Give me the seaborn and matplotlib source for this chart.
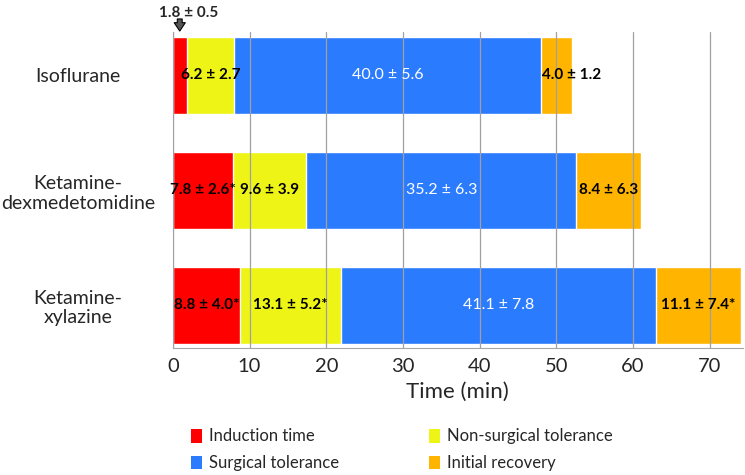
import numpy as np
import pandas as pd
import seaborn as sns
import matplotlib.pyplot as plt
from matplotlib.patches import Patch

groups = ["Isoflurane", "Ketamine-\ndexmedetomidine", "Ketamine-\nxylazine"]
phases = ["Induction time", "Non-surgical tolerance", "Surgical tolerance", "Initial recovery"]
induction = [1.8, 7.8, 8.8]
nonsurgical = [6.2, 9.6, 13.1]
surgical = [40.0, 35.2, 41.1]
recovery = [4.0, 8.4, 11.1]
labels = [
    ["1.8 ± 0.5", "6.2 ± 2.7", "40.0 ± 5.6", "4.0 ± 1.2"],
    ["7.8 ± 2.6*", "9.6 ± 3.9", "35.2 ± 6.3", "8.4 ± 6.3"],
    ["8.8 ± 4.0*", "13.1 ± 5.2*", "41.1 ± 7.8", "11.1 ± 7.4*"],
]
colors = ["#ff0000", "#eef516", "#2b7bff", "#ffb400"]

sns.set_style("white")
plt.rcParams['font.family'] = ['Lato', 'DejaVu Sans']

vals = np.array([induction, nonsurgical, surgical, recovery])
cum = vals.cumsum(axis=0)

fig = plt.figure(figsize=(7.45, 4.75), dpi=100)
ax = fig.add_axes([0.232, 0.267, 0.765, 0.666])

# stacked bars: draw cumulative totals from longest to shortest
for i in range(3, -1, -1):
    d = pd.DataFrame({"group": groups, "t": cum[i]})
    sns.barplot(data=d, x="t", y="group", orient="h", color=colors[i],
                saturation=1, width=0.67, ax=ax, zorder=2)

ax.set_xlim(0, 74.3)
ax.set_ylim(2.374, -0.378)
ax.set_xticks(range(0, 80, 10))
ax.set_axisbelow(False)
ax.xaxis.grid(True, color="#a0a0a0", lw=0.9, zorder=2.5)
for s in ["top", "right"]:
    ax.spines[s].set_visible(False)
ax.spines["left"].set_color("#a6a6a6")
ax.spines["bottom"].set_color("#a6a6a6")
ax.tick_params(axis="x", length=4, color="#a6a6a6", labelsize=14.5, pad=3)
ax.tick_params(axis="y", length=0, labelsize=14, pad=6)
for t in ax.get_yticklabels():
    t.set_horizontalalignment("center")
    t.set_x(-0.152)
ax.set_xlabel("Time (min)", fontsize=16, labelpad=5)
ax.set_ylabel("")

# segment labels
for g in range(3):
    for p in range(4):
        if g == 0 and p == 0:
            continue
        start = cum[p, g] - vals[p, g]
        xc = start + vals[p, g] / 2
        if g == 0 and p == 3:
            xc = cum[p, g]
        if p == 2:
            ax.text(xc, g, labels[g][p], ha="center", va="center", color="white",
                    fontsize=11.5, zorder=3)
        else:
            ax.text(xc, g, labels[g][p], ha="center", va="center", color="black",
                    fontsize=11, fontweight="bold", zorder=3)

ax.text(2.0, -0.545, labels[0][0], ha="center", va="center", fontsize=11,
        fontweight="bold", clip_on=False)
ax.annotate("", xy=(0.9, -0.385), xytext=(0.9, -0.49), annotation_clip=False,
            arrowprops=dict(arrowstyle="simple,head_width=0.8,head_length=0.6,tail_width=0.35",
                            fc="#555555", ec="black", lw=0.8, shrinkA=0, shrinkB=0))

handles = [Patch(facecolor=c, edgecolor="none") for c in colors]
order = [0, 2, 1, 3]
fig.legend([handles[i] for i in order], [phases[i] for i in order], ncol=2,
           loc="upper left", bbox_to_anchor=(0.248, 0.112), frameon=False,
           fontsize=12, handlelength=0.65, handleheight=0.9, handletextpad=0.4,
           columnspacing=5.4, labelspacing=0.65, borderaxespad=0)

fig.savefig("out.png", dpi=100)
